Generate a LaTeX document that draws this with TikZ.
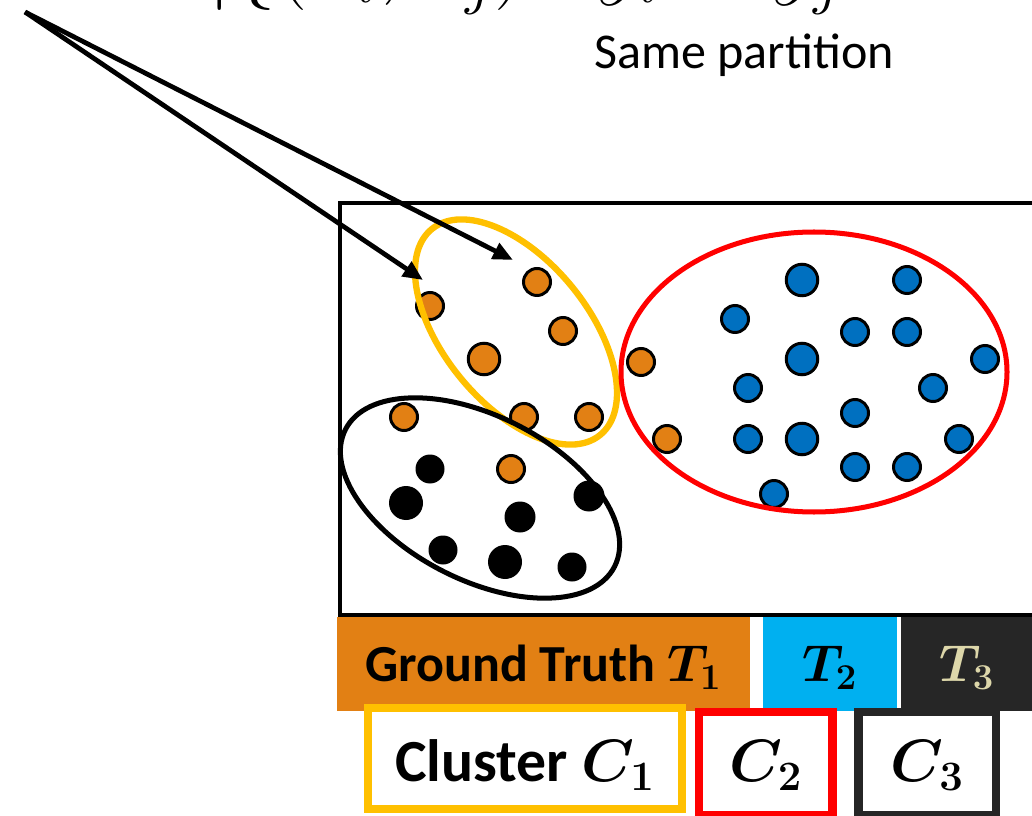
\RequirePackage{fix-cm}
\documentclass[tikz,border=0pt]{standalone}
\usepackage{fontspec}
\setmainfont{Carlito}
\usetikzlibrary{arrows.meta}
\definecolor{Pumpkin}{RGB}{226,128,20}
\definecolor{Amber}{RGB}{255,192,0}
\definecolor{Cobalt}{RGB}{0,112,192}
\definecolor{Sky}{RGB}{0,176,240}
\definecolor{Black85}{RGB}{38,38,38}
\definecolor{Sand}{RGB}{221,215,170}

\begin{document}
\begin{tikzpicture}[
  ball/.style={fill=#1, draw=black, line width=1.7pt},
  bar/.style={fill=#1, inner sep=0pt, outer sep=0pt, minimum height=1.88cm,
    text height=28.4pt, text depth=8pt,
    font=\bfseries\boldmath\fontsize{29.6}{30}\selectfont},
  box/.style={draw=#1, line width=5.1pt, fill=white, inner sep=0pt, outer sep=0pt,
    text depth=8pt, font=\bfseries\boldmath\fontsize{34}{36}\selectfont}
]

  \useasboundingbox (0,0) rectangle (20.64,16.30);
  \clip (0,0) rectangle (20.64,16.30);

  % -------------------------------------------------------
  % Header: pair set (cut at the top edge) and its caption
  % -------------------------------------------------------
  \node[anchor=base west, inner sep=0pt, font=\fontsize{50}{50}\selectfont]
    (pairset) at (4.15,16.52) {$|\{(x_i, x_j) : y_i = y_j$};
  \node[anchor=base, inner sep=0pt, font=\fontsize{28.5}{30}\selectfont]
    (samepart) at (14.88,14.92) {Same partition};

  % -------------------------------------------------------
  % Data panel
  % -------------------------------------------------------
  % Panel border (right side runs off the page)
  \draw[line width=2.3pt] (6.80,4.00) rectangle (21.0,12.24);

  % --- Points of truth class T1 (orange) ---
  \filldraw[ball=Pumpkin] (8.60,10.18) circle (0.27);
  \filldraw[ball=Pumpkin] (10.74,10.66) circle (0.27);
  \filldraw[ball=Pumpkin] (11.26,9.68) circle (0.27);
  \filldraw[ball=Pumpkin] (9.68,9.12) circle (0.315);   % larger one
  \filldraw[ball=Pumpkin] (8.08,7.96) circle (0.27);
  \filldraw[ball=Pumpkin] (10.48,7.96) circle (0.27);
  \filldraw[ball=Pumpkin] (11.78,7.96) circle (0.27);
  \filldraw[ball=Pumpkin] (10.22,6.92) circle (0.27);
  % two of them sit inside the red cluster
  \filldraw[ball=Pumpkin] (12.82,9.06) circle (0.27);
  \filldraw[ball=Pumpkin] (13.34,7.52) circle (0.27);

  % --- Points of truth class T3 (black) ---
  \fill[black] (8.60,6.92) circle (0.29);
  \fill[black] (8.12,6.24) circle (0.34);
  \fill[black] (10.40,5.96) circle (0.31);
  \fill[black] (11.78,6.38) circle (0.31);
  \fill[black] (8.86,5.30) circle (0.29);
  \fill[black] (10.10,5.06) circle (0.34);
  \fill[black] (11.44,4.96) circle (0.29);

  % --- Points of truth class T2 (blue) ---
  \filldraw[ball=Cobalt] (16.04,10.70) circle (0.315);
  \filldraw[ball=Cobalt] (18.14,10.70) circle (0.27);
  \filldraw[ball=Cobalt] (14.70,9.92) circle (0.27);
  \filldraw[ball=Cobalt] (17.10,9.66) circle (0.27);
  \filldraw[ball=Cobalt] (18.14,9.66) circle (0.27);
  \filldraw[ball=Cobalt] (16.04,9.12) circle (0.315);
  \filldraw[ball=Cobalt] (19.70,9.12) circle (0.27);
  \filldraw[ball=Cobalt] (14.96,8.54) circle (0.27);
  \filldraw[ball=Cobalt] (18.66,8.54) circle (0.27);
  \filldraw[ball=Cobalt] (17.10,8.04) circle (0.27);
  \filldraw[ball=Cobalt] (14.96,7.52) circle (0.27);
  \filldraw[ball=Cobalt] (16.04,7.52) circle (0.315);
  \filldraw[ball=Cobalt] (19.18,7.52) circle (0.27);
  \filldraw[ball=Cobalt] (17.10,6.96) circle (0.27);
  \filldraw[ball=Cobalt] (18.14,6.96) circle (0.27);
  \filldraw[ball=Cobalt] (15.48,6.42) circle (0.27);

  % --- Found clusters C1 (yellow), C2 (red), C3 (black) ---
  \draw[Amber, line width=3.6pt, rotate around={-50.7:(10.32,9.66)}]
    (10.32,9.66) ellipse [x radius=2.66, y radius=1.44];
  \draw[black, line width=2.85pt, rotate around={-27:(9.60,6.34)}]
    (9.60,6.34) ellipse [x radius=3.02, y radius=1.64];
  \draw[red, line width=2.85pt]
    (16.28,8.86) ellipse [x radius=3.86, y radius=2.80];

  % --- Pair arrows from the formula down to two points ---
  \coordinate (pairsrc) at (0.50,16.06);
  \coordinate (tipA) at (8.46,10.70);
  \coordinate (tipB) at (10.26,11.10);
  \draw[line width=2.7pt, -{Triangle[length=0.40cm, width=0.34cm]}]
    (pairsrc) -- (tipA);
  \draw[line width=2.7pt, -{Triangle[length=0.40cm, width=0.34cm]}]
    (pairsrc) -- (tipB);

  % -------------------------------------------------------
  % Legend: ground truth classes and clusters
  % -------------------------------------------------------
  \node[bar=Pumpkin, minimum width=8.26cm] (truth1) at (10.87,3.02)
    {Ground Truth $T_1$};
  \node[bar=Sky, minimum width=2.68cm] (truth2) at (16.60,3.02) {$T_2$};
  \node[bar=Black85, minimum width=2.64cm, text=Sand] (truth3) at (19.34,3.02)
    {$T_3$};

  \node[box=Amber, minimum width=6.28cm, minimum height=2.02cm, text height=34.7pt]
    (clust1) at (10.50,1.13) {Cluster $C_1$};
  \node[box=red, minimum width=2.67cm, minimum height=2.06cm, text height=29pt]
    (clust2) at (15.315,1.03) {$C_2$};
  \node[box=Black85, minimum width=2.75cm, minimum height=2.06cm, text height=29pt]
    (clust3) at (18.545,1.03) {$C_3$};

\end{tikzpicture}
\end{document}
